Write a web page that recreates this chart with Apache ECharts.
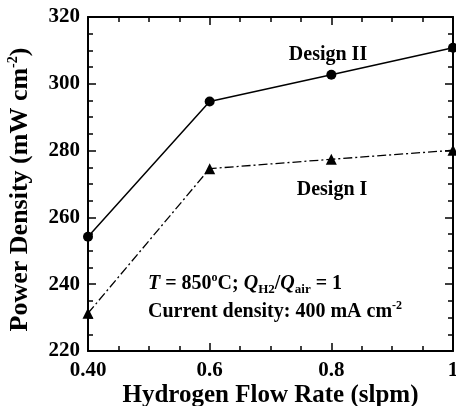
<!DOCTYPE html>
<html>
<head>
<meta charset="utf-8">
<script src="https://cdn.jsdelivr.net/npm/echarts@6/dist/echarts.min.js"></script>
<style>
  html, body { margin: 0; padding: 0; background: #fff; }
  #chart { width: 456px; height: 406px; }
</style>
</head>
<body>
<div id="chart"></div>
<script>
// hydrogen flow rate (slpm)
var flowRate = [0.4, 0.6, 0.8, 1.0];
// power density (mW cm-2)
var designII = [254.2, 294.7, 302.7, 310.8];
var designI = [231.3, 274.6, 277.4, 280.1];
var xTickLabels = { '0.4': '0.40', '0.6': '0.6', '0.8': '0.8', '1': '1' };

var FONT = '"Liberation Serif", "Times New Roman", serif';

var chart = echarts.init(document.getElementById('chart'));

function pairs(xs, ys) {
    var out = [];
    for (var i = 0; i < xs.length; i++) {
        out.push([xs[i], ys[i]]);
    }
    return out;
}

var tickStyle = { show: true, inside: true, length: 8, lineStyle: { color: '#000', width: 1.5 } };
var minorStyle = { show: true, splitNumber: 4, length: 5, lineStyle: { color: '#000', width: 1.5 } };
var lineStyle = { show: true, lineStyle: { color: '#000', width: 2 } };

var option = {
    animation: false,
    grid: { left: 88, right: 3, top: 17, bottom: 55, containLabel: false, outerBoundsMode: 'none' },
    xAxis: [
        {
            type: 'value', min: 0.4, max: 1.0, interval: 0.2,
            axisLine: lineStyle, axisTick: tickStyle, minorTick: minorStyle,
            splitLine: { show: false },
            axisLabel: {
                margin: 9,
                fontFamily: FONT, fontWeight: 'bold', fontSize: 21, color: '#000',
                formatter: function (v) {
                    var k = String(Math.round(v * 10) / 10);
                    return xTickLabels[k] || k;
                }
            },
            name: 'Hydrogen Flow Rate (slpm)',
            nameLocation: 'middle',
            nameGap: 32,
            nameMoveOverlap: false,
            nameTextStyle: { fontFamily: FONT, fontWeight: 'bold', fontSize: 25, color: '#000' }
        },
        {
            type: 'value', min: 0.4, max: 1.0, interval: 0.2, position: 'top',
            axisLine: lineStyle, axisTick: tickStyle, minorTick: minorStyle,
            splitLine: { show: false }, axisLabel: { show: false }
        }
    ],
    yAxis: [
        {
            type: 'value', min: 220, max: 320, interval: 20,
            axisLine: lineStyle, axisTick: tickStyle, minorTick: minorStyle,
            splitLine: { show: false },
            axisLabel: {
                margin: 8,
                fontFamily: FONT, fontWeight: 'bold', fontSize: 21, color: '#000'
            },
            name: 'Power Density (mW cm{sup|-2})',
            nameLocation: 'middle',
            nameGap: 54,
            nameMoveOverlap: false,
            nameTextStyle: {
                fontFamily: FONT, fontWeight: 'bold', fontSize: 26, color: '#000',
                padding: [0, 11, 0, 0],
                rich: {
                    sup: { fontFamily: FONT, fontWeight: 'bold', fontSize: 14, color: '#000', verticalAlign: 'top', lineHeight: 28 }
                }
            }
        },
        {
            type: 'value', min: 220, max: 320, interval: 20, position: 'right',
            axisLine: lineStyle, axisTick: tickStyle, minorTick: minorStyle,
            splitLine: { show: false }, axisLabel: { show: false }
        }
    ],
    series: [
        {
            name: 'Design II',
            type: 'line',
            data: pairs(flowRate, designII),
            symbol: 'circle',
            symbolSize: 10,
            clip: false,
            itemStyle: { color: '#000' },
            lineStyle: { color: '#000', width: 1.5 }
        },
        {
            name: 'Design I',
            type: 'line',
            data: pairs(flowRate, designI),
            symbol: 'triangle',
            symbolSize: 11,
            clip: false,
            itemStyle: { color: '#000' },
            lineStyle: { color: '#000', width: 1.3, type: [9, 3, 2, 3] }
        }
    ],
    graphic: [
        {
            type: 'text', x: 328, y: 55,
            style: { text: 'Design II', font: 'bold 20px ' + FONT, fill: '#000', align: 'center', verticalAlign: 'middle' }
        },
        {
            type: 'text', x: 332, y: 190,
            style: { text: 'Design I', font: 'bold 20px ' + FONT, fill: '#000', align: 'center', verticalAlign: 'middle' }
        },
        {
            type: 'text', x: 148, y: 284,
            style: {
                text: '{i|T} = 850{sup|o}C; {i|Q}{sub|H2}/{i|Q}{sub|air} = 1',
                font: 'bold 20px ' + FONT, fill: '#000', align: 'left', verticalAlign: 'middle',
                lineHeight: 24,
                rich: {
                    i: { fontFamily: FONT, fontWeight: 'bold', fontStyle: 'italic', fontSize: 20, color: '#000', lineHeight: 24 },
                    sup: { fontFamily: FONT, fontWeight: 'bold', fontSize: 12, color: '#000', verticalAlign: 'top', lineHeight: 24 },
                    sub: { fontFamily: FONT, fontWeight: 'bold', fontSize: 13, color: '#000', verticalAlign: 'bottom', lineHeight: 20 }
                }
            }
        },
        {
            type: 'text', x: 148, y: 312,
            style: {
                text: 'Current density: 400 mA cm{sup|-2}',
                font: 'bold 20px ' + FONT, fill: '#000', align: 'left', verticalAlign: 'middle',
                lineHeight: 24,
                rich: {
                    sup: { fontFamily: FONT, fontWeight: 'bold', fontSize: 12, color: '#000', verticalAlign: 'top', lineHeight: 24 }
                }
            }
        }
    ]
};

option && chart.setOption(option);
</script>
</body>
</html>
